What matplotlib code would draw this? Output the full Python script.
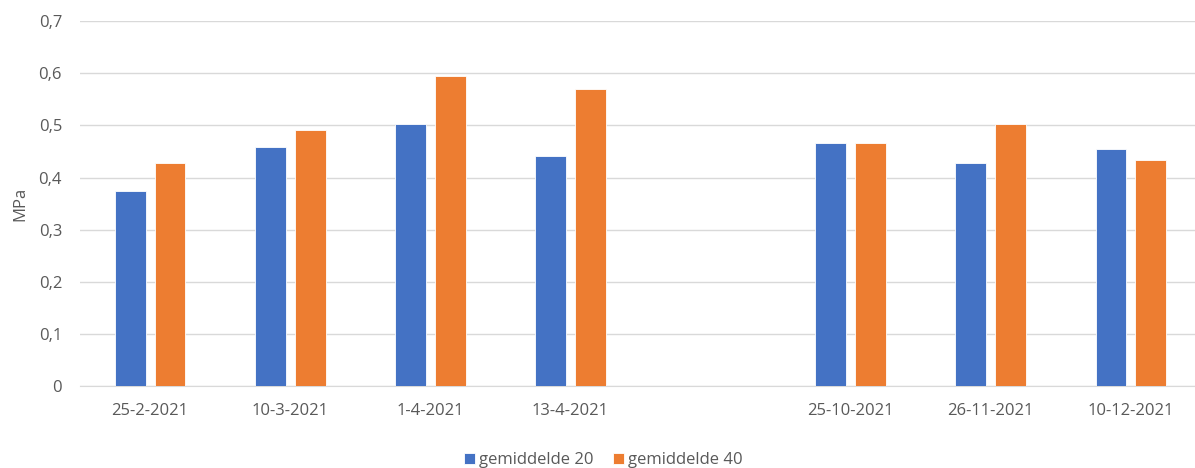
import numpy as np
import matplotlib.pyplot as plt
from matplotlib.ticker import FuncFormatter

plt.rcParams['font.family'] = ['Open Sans', 'DejaVu Sans']

# data (the empty category is a gap in the original chart)
datums = ['25-2-2021', '10-3-2021', '1-4-2021', '13-4-2021', '',
          '25-10-2021', '26-11-2021', '10-12-2021']
gem_20 = [0.374, 0.458, 0.502, 0.441, np.nan, 0.466, 0.428, 0.454]
gem_40 = [0.428, 0.491, 0.595, 0.569, np.nan, 0.466, 0.502, 0.433]

blauw = '#4472C4'
oranje = '#ED7D31'
tekst = '#595959'

fig = plt.figure(figsize=(11.95, 4.68), dpi=100)
ax = fig.add_axes([0.067, 0.175, 0.938, 0.78])

x = np.arange(len(datums))
breedte = 0.22
tussen = 0.032
ax.bar(x - breedte / 2 - tussen, gem_20, breedte, color=blauw,
       edgecolor='white', linewidth=0.6, label='gemiddelde 20', zorder=3)
ax.bar(x + breedte / 2 + tussen, gem_40, breedte, color=oranje,
       edgecolor='white', linewidth=0.6, label='gemiddelde 40', zorder=3)

ax.set_xlim(-0.5, len(datums) - 0.5)
ax.set_ylim(0, 0.7)
ax.set_yticks(np.arange(0, 0.71, 0.1))
ax.yaxis.set_major_formatter(FuncFormatter(
    lambda v, p: '0' if abs(v) < 1e-9 else ('%.1f' % v).replace('.', ',')))
ax.set_xticks(x)
ax.set_xticklabels(datums)

ax.grid(axis='y', color='#D9D9D9', linewidth=1, zorder=0)
for s in ['top', 'right', 'left']:
    ax.spines[s].set_visible(False)
ax.spines['bottom'].set_color('#D9D9D9')
ax.tick_params(axis='both', length=0, labelsize=12, labelcolor=tekst)
ax.tick_params(axis='x', pad=12)
ax.tick_params(axis='y', pad=13)

ax.set_ylabel('MPa', fontsize=12, color=tekst, labelpad=7)

fig.legend(loc='lower center', bbox_to_anchor=(0.505, -0.032), ncol=2,
           frameon=False, fontsize=12, labelcolor=tekst, handlelength=0.65,
           handleheight=0.65, handletextpad=0.25, columnspacing=1.2)

fig.savefig('out.png', dpi=100)
